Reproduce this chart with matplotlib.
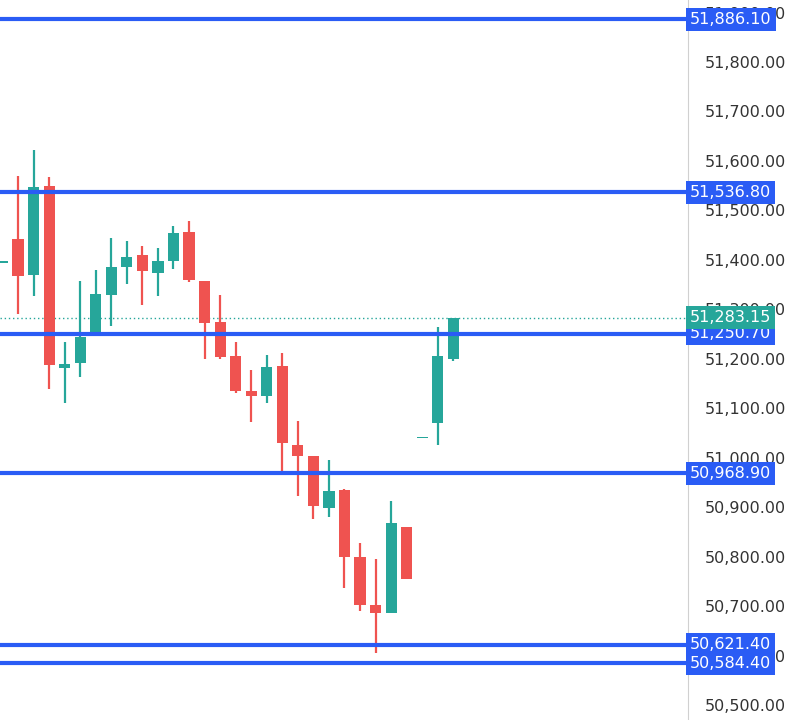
import matplotlib
matplotlib.use("Agg")
import matplotlib.pyplot as plt

opens  = [51396, 51442.7, 51370.0, 51549.3, 51181.3, 51192.0, 51250.1, 51329.5, 51386.1, 51409.2,
          51372.8, 51397.1, 51456.3, 51356.6, 51274.3, 51205.6, 51134.2, 51124.7, 51185.4, 51026.3,
          51003.4, 50898.3, 50934.7, 50798.6, 50701.6, 50685.4, 50860.5, 51041.2, 51069.5, 51200.1]
highs  = [51396, 51569.5, 51622.1, 51567.5, 51233.9, 51357.2, 51379.5, 51444.2, 51438.7, 51428.0,
          51424.0, 51468.4, 51477.9, 51356.6, 51329.5, 51233.9, 51177.3, 51208.2, 51212.3, 51073.6,
          51003.4, 50995.3, 50937.4, 50827.0, 50795.8, 50911.8, 50860.5, 51041.2, 51264.8, 51283.15]
lows   = [51396, 51290.5, 51326.9, 51139.5, 51110.6, 51163.1, 51246.0, 51266.2, 51351.2, 51309.3,
          51326.9, 51382.1, 51355.2, 51200.1, 51200.1, 51130.2, 51072.2, 51110.0, 50968.4, 50922.5,
          50875.4, 50880.6, 50736.5, 50690.6, 50605.7, 50685.4, 50755.4, 51041.2, 51026.3, 51194.8]
closes = [51396, 51367.3, 51546.7, 51188.0, 51189.4, 51244.0, 51330.9, 51386.1, 51406.4, 51376.8,
          51397.1, 51453.7, 51359.2, 51272.9, 51204.2, 51134.2, 51124.7, 51182.7, 51029.1, 51003.4,
          50902.3, 50932.0, 50799.8, 50702.8, 50685.4, 50867.4, 50755.4, 51041.2, 51205.6, 51283.15]
positions = list(range(30))
levels = [51886.10, 51536.80, 51250.70, 50968.90, 50621.40, 50584.40]
last_price = 51283.15
ticks = [51900, 51800, 51700, 51600, 51500, 51400, 51300, 51200, 51100, 51000, 50900, 50800, 50700, 50600, 50500]

UP, DOWN, BLUE = "#26a69a", "#ef5350", "#2a5cf5"

fig = plt.figure(figsize=(8, 7.2), dpi=100)
ax = fig.add_axes([0, 0, 0.86, 1])
ax.set_xlim(-0.16, 44.1)
ax.set_ylim(50469.7, 51925.4)

for x, o, h, l, c in zip(positions, opens, highs, lows, closes):
    col = UP if c >= o else DOWN
    ax.vlines(x, l, h, color=col, lw=1.6, zorder=2)
    b = max(abs(c - o), 3)
    ax.bar(x, b, bottom=min(o, c) - (b - abs(c - o)) / 2, width=0.72, color=col, zorder=3)

for lv in levels:
    ax.axhline(lv, color=BLUE, lw=3, zorder=4)
ax.axhline(last_price, color=UP, lw=1, ls=(0, (1, 2)), zorder=1)

ax.yaxis.tick_right()
ax.set_yticks(ticks)
ax.set_yticklabels([f"{t:,.2f}" for t in ticks], fontsize=11.5, color="#333333")
ax.tick_params(axis="y", length=0, pad=12)
ax.set_xticks([])
for s in ["top", "left", "bottom"]:
    ax.spines[s].set_visible(False)
ax.spines["right"].set_color("#d0d0d0")

tr = ax.get_yaxis_transform()
for lv in levels:
    ax.text(1.003, lv, f"{lv:,.2f}", transform=tr, ha="left", va="center", fontsize=11.5,
            color="white", clip_on=False, zorder=10,
            bbox=dict(boxstyle="square,pad=0.25", fc=BLUE, ec="none"))
ax.text(1.003, last_price, f"{last_price:,.2f}", transform=tr, ha="left", va="center", fontsize=11.5,
        color="white", clip_on=False, zorder=10,
        bbox=dict(boxstyle="square,pad=0.25", fc=UP, ec="none"))

fig.savefig("out.png", dpi=100)
